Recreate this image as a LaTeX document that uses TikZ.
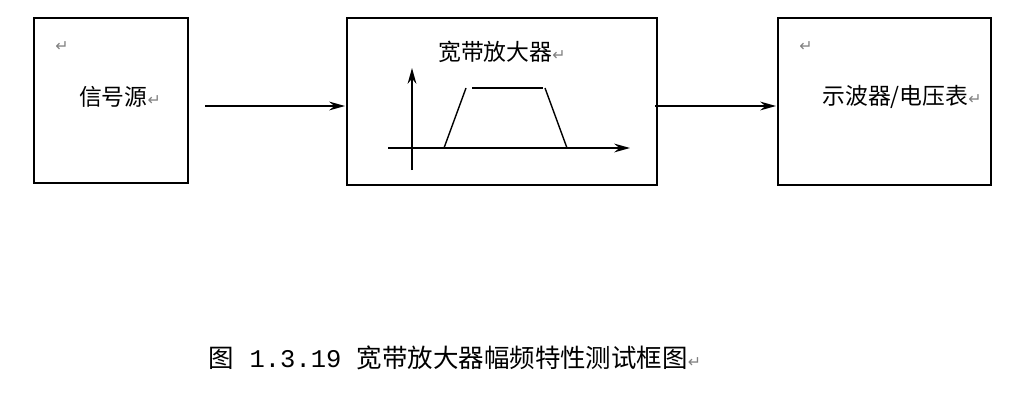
\documentclass[tikz,border=0pt]{standalone}
\usepackage{fontspec}
\setmainfont{Noto Sans CJK SC}
\newfontfamily\dvs{DejaVu Sans}
\newfontfamily\mon{Liberation Mono}
\usetikzlibrary{arrows.meta}
\newcommand{\rmark}{{\dvs\color{gray}\fontsize{9}{9}\selectfont ↵}}
\begin{document}
\begin{tikzpicture}[x=0.02cm,y=-0.02cm,
  blk/.style={draw,line width=0.8pt},
  conn/.style={line width=0.8pt,-{Stealth[length=9pt,width=5pt]}},
  txt/.style={font=\fontsize{13}{15}\selectfont,inner sep=0pt}]
\useasboundingbox (0,0) rectangle (1027,409);
\draw[blk] (34,18) rectangle (188,183);
\draw[blk] (347,18) rectangle (657,185);
\draw[blk] (778,18) rectangle (991,185);
\coordinate (a1) at (205,106); \coordinate (a2) at (345,106);
\coordinate (b1) at (655,106); \coordinate (b2) at (776,106);
\draw[conn] (a1) -- (a2);
\draw[conn] (b1) -- (b2);
\node[txt] (m1) at (62,47) {\rmark};
\node[txt] (t1) at (120,97) {信号源\rmark};
\node[txt] (t2) at (502,52) {宽带放大器\rmark};
\node[txt] (m3) at (806,47) {\rmark};
\node[txt] (t3) at (902,97) {示波器/电压表\rmark};
\node[txt,font=\fontsize{14.5}{16}\selectfont] (cap) at (455,358) {图{\mon\ 1.3.19 }宽带放大器幅频特性测试框图\rmark};
\coordinate (v0) at (412,170); \coordinate (v1) at (412,68);
\coordinate (h0) at (388,148); \coordinate (h1) at (630,148);
\draw[conn] (v0) -- (v1);
\draw[conn] (h0) -- (h1);
\draw[line width=0.8pt] (444,148) -- (466,88);
\draw[line width=0.8pt] (472,88) -- (543,88);
\draw[line width=0.8pt] (545,88) -- (567,148);
\end{tikzpicture}
\end{document}
